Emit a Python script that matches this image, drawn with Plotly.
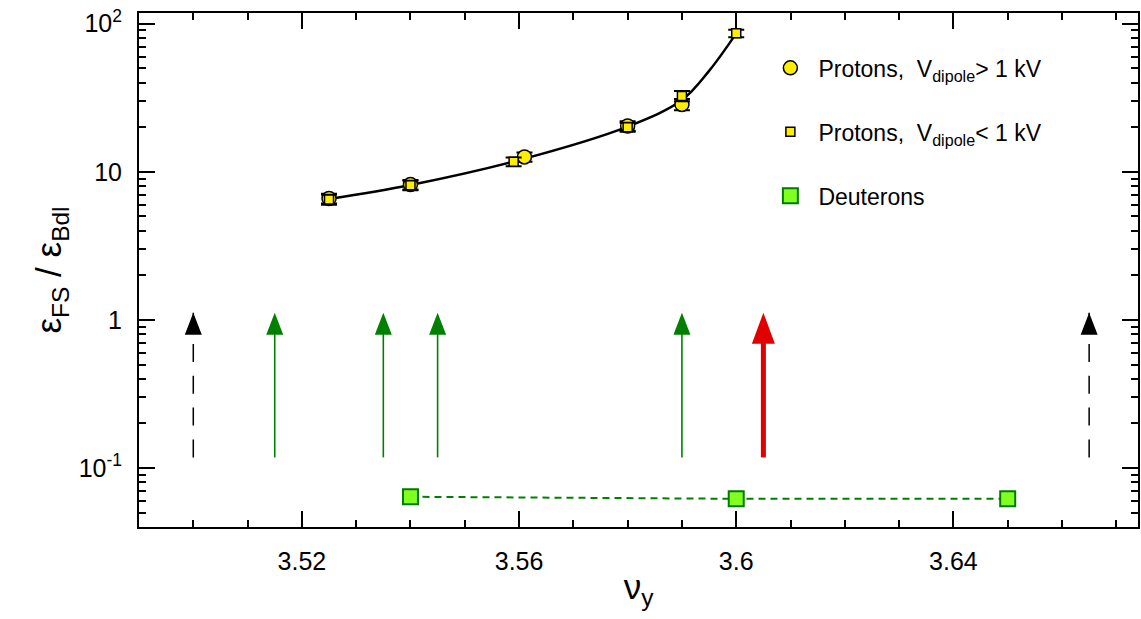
import math
import plotly.graph_objects as go

# ---- data -------------------------------------------------------------
# protons, dipole voltage above 1 kV
p_hi_nu = [3.525, 3.54, 3.561, 3.58, 3.59]
p_hi_ratio = [6.6, 8.2, 12.6, 20.4, 28.5]
p_hi_err = [0.5, 0.6, 0.9, 1.5, 2.5]

# protons, dipole voltage below 1 kV
p_lo_nu = [3.525, 3.54, 3.559, 3.58, 3.59, 3.60]
p_lo_ratio = [6.5, 8.1, 11.7, 20.0, 32.5, 86.0]
p_lo_err = [0.5, 0.6, 0.8, 1.4, 2.6, 5.0]

# smooth guide curve through the proton measurements
fit_nu = [3.525, 3.54, 3.56, 3.58, 3.59, 3.595, 3.60]
fit_ratio = [6.55, 8.15, 12.0, 20.2, 30.5, 48.0, 86.0]

# deuterons
d_nu = [3.54, 3.60, 3.65]
d_ratio = [0.064, 0.062, 0.062]

# resonance markers (vertical arrows)
arrow_nu = [3.50, 3.515, 3.535, 3.545, 3.59, 3.605, 3.665]
arrow_kind = ["dash", "green", "green", "green", "green", "red", "dash"]
ARROW_TAIL = 0.118
ARROW_TIP = 1.12

x_ticks = [3.52, 3.56, 3.60, 3.64]
x_tick_text = ["3.52", "3.56", "3.6", "3.64"]
y_ticks = [0.1, 1, 10, 100]
y_tick_text = ["10<sup>-1</sup>", "1", "10", "10<sup>2</sup>"]

X_RANGE = [3.49, 3.674]
Y_RANGE = [0.04, 118]

# ---- layout constants -------------------------------------------------
W, H = 1141, 619
M = dict(l=139, r=1, t=13, b=92)
PLOT_H = H - M["t"] - M["b"]
LOG_SPAN = math.log10(Y_RANGE[1]) - math.log10(Y_RANGE[0])

FONT = "Liberation Sans, Arial, Helvetica, sans-serif"
YELLOW = "#ffee00"
LIME = "#80ff20"
DGREEN = "#007a00"

styles = {
    "dash": dict(color="black", width=1.5, dash="18px,13.8px", head_w=17, head_l=22),
    "green": dict(color="#008000", width=1.6, dash="solid", head_w=17, head_l=22),
    "red": dict(color="#e00000", width=5, dash="solid", head_w=23, head_l=31),
}


def shift_down(value, px):
    """Value on the log y axis lying `px` screen pixels below `value`."""
    return value * 10 ** (-px * LOG_SPAN / PLOT_H)


fig = go.Figure()

# guide curve
fig.add_trace(go.Scatter(
    x=fit_nu, y=fit_ratio, mode="lines", line=dict(color="black", width=2.5, shape="spline"),
    showlegend=False, hoverinfo="skip",
))

# deuteron connecting line
fig.add_trace(go.Scatter(
    x=d_nu, y=d_ratio, mode="lines", line=dict(color="#008000", width=2, dash="7px,5px"),
    showlegend=False, hoverinfo="skip",
))

# arrow shafts
shapes = []
for nu, kind in zip(arrow_nu, arrow_kind):
    s = styles[kind]
    top = ARROW_TIP if kind == "dash" else shift_down(ARROW_TIP, s["head_l"] - 1)
    fig.add_trace(go.Scatter(
        x=[nu, nu], y=[ARROW_TAIL, top], mode="lines",
        line=dict(color=s["color"], width=s["width"], dash=s["dash"]),
        showlegend=False, hoverinfo="skip",
    ))
    hw, hl = s["head_w"] / 2, s["head_l"]
    shapes.append(dict(
        type="path", xref="x", yref="y", xsizemode="pixel", ysizemode="pixel",
        xanchor=nu, yanchor=ARROW_TIP,
        path=f"M{-hw},{-hl} L{hw},{-hl} L0,0 Z",
        fillcolor=s["color"], line=dict(width=0), layer="above",
    ))

nb = "\u00a0"
fig.add_trace(go.Scatter(
    x=p_hi_nu, y=p_hi_ratio, mode="markers", name=f"Protons,{nb}{nb}V<sub>dipole</sub>> 1 kV",
    marker=dict(symbol="circle", size=14, color=YELLOW, line=dict(color="black", width=1.5)),
    error_y=dict(type="data", array=p_hi_err, color="black", thickness=2, width=8),
    legendgroup="a",
))
fig.add_trace(go.Scatter(
    x=p_lo_nu, y=p_lo_ratio, mode="markers", name=f"Protons,{nb}{nb}V<sub>dipole</sub>< 1 kV",
    marker=dict(symbol="square", size=9, color=YELLOW, line=dict(color="black", width=1.5)),
    error_y=dict(type="data", array=p_lo_err, color="black", thickness=2, width=8),
    legendgroup="b",
))
fig.add_trace(go.Scatter(
    x=d_nu, y=d_ratio, mode="markers", name="Deuterons",
    marker=dict(symbol="square", size=15, color=LIME, line=dict(color=DGREEN, width=2)),
    legendgroup="c",
))

axis_common = dict(
    showline=True, linecolor="black", linewidth=2, mirror="allticks",
    ticks="inside", ticklen=16, tickwidth=2, tickcolor="black",
    showgrid=False, zeroline=False,
    tickfont=dict(family=FONT, size=25, color="black"),
)

fig.update_layout(
    width=W, height=H, margin=M,
    paper_bgcolor="white", plot_bgcolor="white",
    font=dict(family=FONT, color="black"),
    shapes=shapes,
    showlegend=True,
    legend=dict(
        x=0.624, y=0.935, xanchor="left", yanchor="top",
        font=dict(family=FONT, size=23, color="black"),
        itemwidth=46,
        bgcolor="rgba(0,0,0,0)", tracegroupgap=31, traceorder="grouped",
    ),
    xaxis=dict(
        axis_common, range=X_RANGE, tickvals=x_ticks, ticktext=x_tick_text,
        minor=dict(ticks="inside", ticklen=7, tickwidth=2, tickcolor="black", dtick=0.01, tick0=3.49),
        ticklabelstandoff=11,
        title=dict(text="ν<sub>y</sub>", font=dict(family=FONT, size=35, color="black"), standoff=0),
    ),
    yaxis=dict(
        axis_common, type="log",
        range=[math.log10(Y_RANGE[0]), math.log10(Y_RANGE[1])],
        tickvals=y_ticks, ticktext=y_tick_text,
        minor=dict(ticks="inside", ticklen=7, tickwidth=2, tickcolor="black", dtick="D1"),
        ticklabelstandoff=10,
        title=dict(text="ε<sub>FS</sub> / ε<sub>Bdl</sub>", font=dict(family=FONT, size=35, color="black"), standoff=6),
    ),
)

fig.write_html("out.html")
